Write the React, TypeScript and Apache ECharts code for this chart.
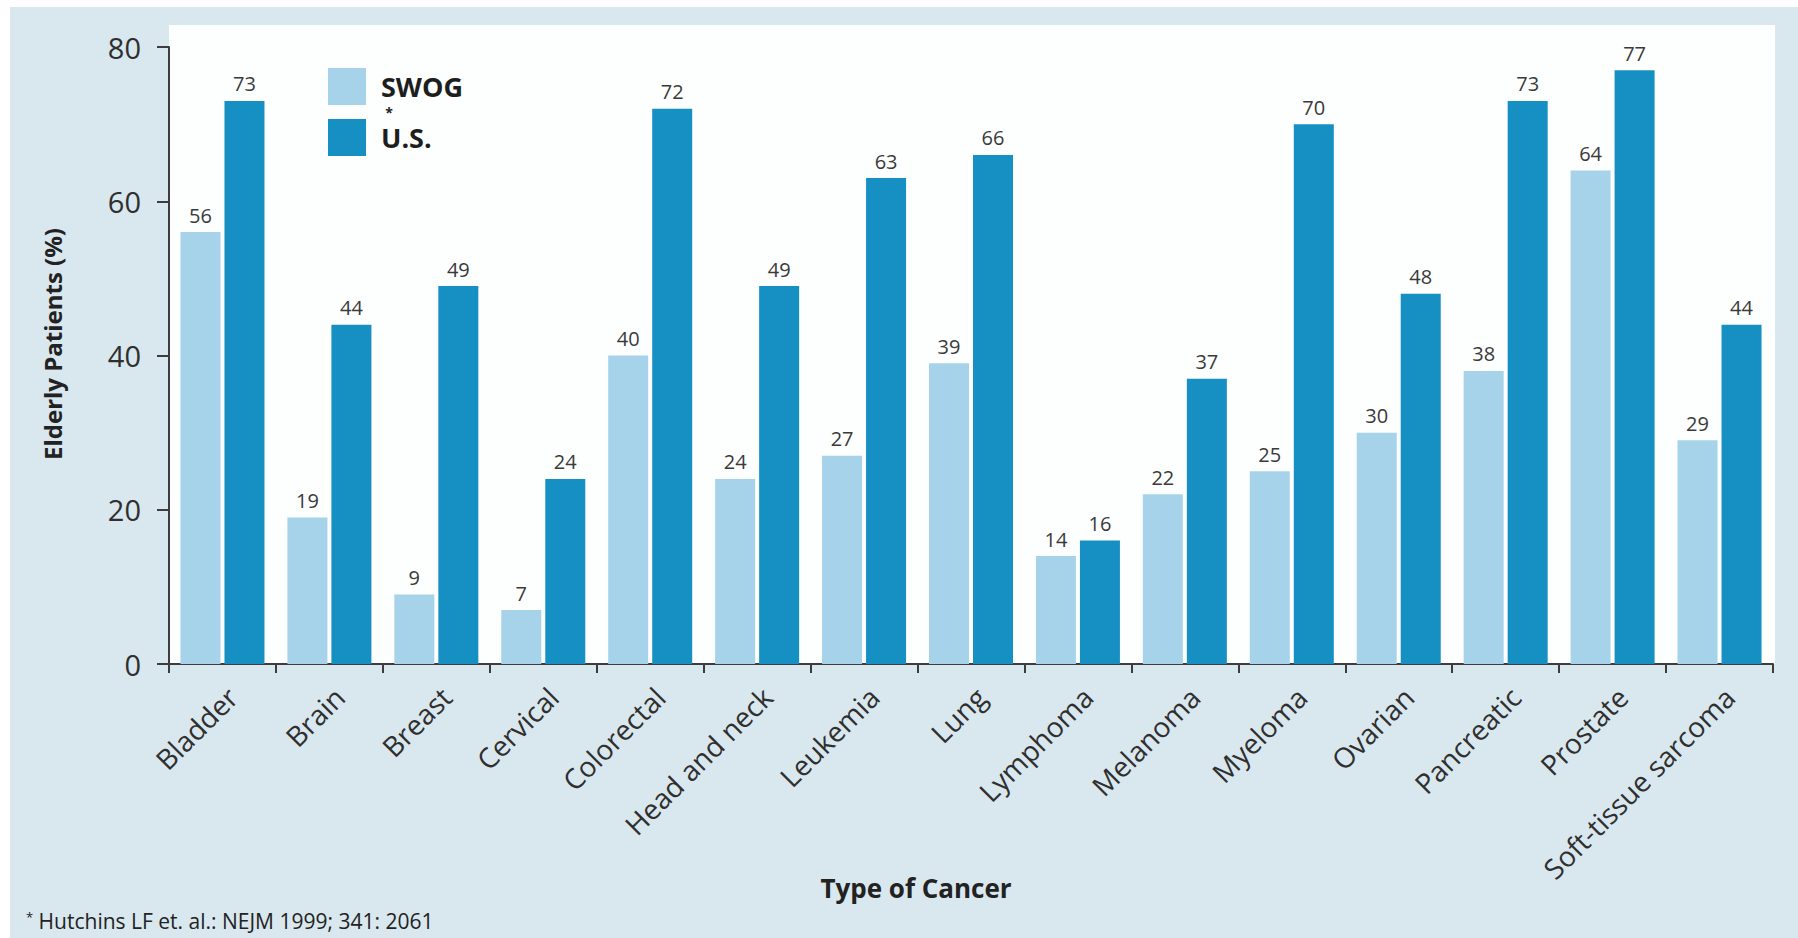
import React, { useEffect, useRef } from "react";
import * as echarts from "echarts";

// Share of elderly patients by cancer type: SWOG trials vs. U.S. population
const cancerTypes = [
  "Bladder",
  "Brain",
  "Breast",
  "Cervical",
  "Colorectal",
  "Head and neck",
  "Leukemia",
  "Lung",
  "Lymphoma",
  "Melanoma",
  "Myeloma",
  "Ovarian",
  "Pancreatic",
  "Prostate",
  "Soft-tissue sarcoma",
];
const swogPct = [56, 19, 9, 7, 40, 24, 27, 39, 14, 22, 25, 30, 38, 64, 29];
const usPct = [73, 44, 49, 24, 72, 49, 63, 66, 16, 37, 70, 48, 73, 77, 44];

const yMin = 0;
const yMax = 80;
const yStep = 20;

const seriesNames = ["SWOG", "U.S."];
const yTitle = "Elderly Patients (%)";
const xTitle = "Type of Cancer";
const footnote = "Hutchins LF et. al.: NEJM 1999; 341: 2061";

const FONT = "'Open Sans', 'Noto Sans', sans-serif";
const PAGE_BG = "#d9e7ee";
const SWOG_COLOR = "#a6d3ea";
const US_COLOR = "#1690c2";
const INK = "#2f2f2f";

export default function App() {
  const ref = useRef<HTMLDivElement>(null);

  useEffect(() => {
    if (!ref.current) return;
    const chart = echarts.init(ref.current, null, { renderer: "svg" });

    const valueLabel = {
      show: true,
      position: "top" as const,
      distance: 7,
      fontSize: 20,
      fontFamily: FONT,
      color: "#3a3a3a",
    };

    chart.setOption({
      animation: false,
      backgroundColor: "#ffffff",
      grid: { left: 169, right: 25, top: 47, bottom: 274, containLabel: false },
      legend: {
        data: seriesNames,
        orient: "vertical",
        left: 328,
        top: 68,
        padding: 0,
        itemWidth: 38,
        itemHeight: 37,
        itemGap: 14,
        icon: "rect",
        selectedMode: false,
        textStyle: {
          fontSize: 27,
          fontWeight: "bold",
          fontFamily: FONT,
          color: "#1e1e1e",
          padding: [0, 0, 0, 10],
        },
      },
      xAxis: {
        type: "category",
        data: cancerTypes,
        boundaryGap: true,
        axisLine: { show: true, lineStyle: { color: "#3d3d3d", width: 2 } },
        axisTick: { show: true, length: 9, lineStyle: { color: "#3d3d3d", width: 2 } },
        axisLabel: {
          rotate: 45,
          interval: 0,
          margin: 38,
          fontSize: 28,
          fontFamily: FONT,
          color: INK,
          padding: [0, -14, 0, 0],
        },
        splitLine: { show: false },
      },
      yAxis: {
        type: "value",
        min: yMin,
        max: yMax,
        interval: yStep,
        axisLine: { show: true, lineStyle: { color: "#3d3d3d", width: 2 } },
        axisTick: { show: true, length: 12, lineStyle: { color: "#3d3d3d", width: 2 } },
        axisLabel: { margin: 28, fontSize: 29, fontFamily: FONT, color: INK },
        splitLine: { show: false },
      },
      graphic: [
        {
          type: "rect",
          z: -20,
          silent: true,
          shape: { x: 10, y: 7, width: 1798, height: 938 },
          style: { fill: PAGE_BG },
        },
        {
          type: "rect",
          z: -10,
          silent: true,
          shape: { x: 169, y: 25, width: 1606, height: 639 },
          style: { fill: "#fdfefe" },
        },
        {
          type: "text",
          x: 389,
          y: 112,
          silent: true,
          style: {
            text: "*",
            fontSize: 14,
            fontWeight: "bold",
            fontFamily: FONT,
            fill: "#1e1e1e",
            align: "center",
            verticalAlign: "middle",
          },
        },
        {
          type: "text",
          x: 52,
          y: 344,
          rotation: Math.PI / 2,
          silent: true,
          style: {
            text: yTitle,
            fontSize: 24,
            fontWeight: "bold",
            fontFamily: FONT,
            fill: "#222222",
            align: "center",
            verticalAlign: "middle",
          },
        },
        {
          type: "text",
          x: 916,
          y: 888,
          silent: true,
          style: {
            text: xTitle,
            fontSize: 26,
            fontWeight: "bold",
            fontFamily: FONT,
            fill: "#222222",
            align: "center",
            verticalAlign: "middle",
          },
        },
        {
          type: "text",
          x: 26,
          y: 921,
          silent: true,
          style: {
            text: "{s|*} " + footnote,
            fontSize: 21,
            fontFamily: FONT,
            fill: "#222222",
            align: "left",
            verticalAlign: "middle",
            rich: { s: { fontSize: 13, verticalAlign: "top", fill: "#222222", fontFamily: FONT } },
          },
        },
      ],
      series: [
        {
          name: seriesNames[0],
          type: "bar",
          data: swogPct,
          barWidth: 40,
          barGap: "10%",
          itemStyle: { color: SWOG_COLOR },
          label: valueLabel,
        },
        {
          name: seriesNames[1],
          type: "bar",
          data: usPct,
          barWidth: 40,
          barGap: "10%",
          itemStyle: { color: US_COLOR },
          label: valueLabel,
        },
      ],
    });

    return () => chart.dispose();
  }, []);

  return (
    <div
      ref={ref}
      style={{ position: "fixed", left: 0, top: 0, width: 1798, height: 938 }}
    />
  );
}
